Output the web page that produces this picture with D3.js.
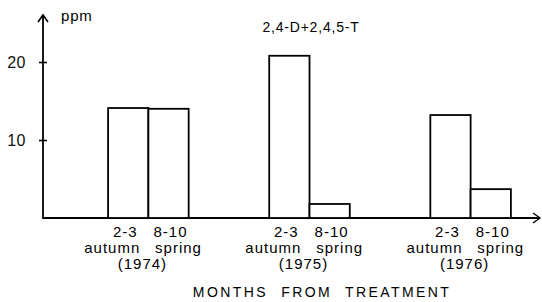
<!DOCTYPE html>
<html>
<head>
<meta charset="utf-8">
<script src="https://cdn.jsdelivr.net/npm/d3@7"></script>
<style>
  body { margin: 0; background: #fff; }
  svg { font-family: "Liberation Sans", Arial, sans-serif; }
</style>
</head>
<body>
<svg width="542" height="302"></svg>
<script>
// residue data
const years = ["1974", "1975", "1976"]
const seasons = ["autumn", "spring"]
const months = ["2-3", "8-10"]
const autumnPpm = [14.1, 20.8, 13.2]
const springPpm = [14.0, 1.8, 3.7]
const yTicks = [10, 20]

const svg = d3.select("svg")

const y = d3.scaleLinear().domain([0, 20]).range([218, 62])
const x = d3.scaleBand().domain(years).range([63, 556])
  .paddingInner(0.5).paddingOuter(0.28)
const xs = d3.scaleBand().domain(seasons).range([0, x.bandwidth()])

const x0 = 43, base = y(0)

// axes with open arrowheads
svg.append("line").attr("x1", x0).attr("x2", x0).attr("y1", base + 1).attr("y2", 15)
  .attr("stroke", "#000").attr("stroke-width", 1.8)
svg.append("path").attr("d", `M${x0 - 5},22 L${x0},15 L${x0 + 5},22`)
  .attr("fill", "none").attr("stroke", "#000").attr("stroke-width", 1.6)
svg.append("line").attr("x1", x0).attr("x2", 539).attr("y1", base).attr("y2", base)
  .attr("stroke", "#000").attr("stroke-width", 1.8)
svg.append("path").attr("d", `M533,${base - 5} L540,${base} L533,${base + 5}`)
  .attr("fill", "none").attr("stroke", "#000").attr("stroke-width", 1.4)

const yAxis = svg.append("g").attr("transform", `translate(${x0},0)`)
  .call(d3.axisLeft(y).tickValues(yTicks).tickSizeInner(4).tickSizeOuter(0).tickPadding(13))
yAxis.select(".domain").remove()
yAxis.selectAll(".tick line").attr("x2", 4).attr("x1", -4).attr("stroke-width", 1.6)
yAxis.selectAll(".tick text").attr("font-size", 16).attr("font-family", "Liberation Sans, Arial, sans-serif")
  .attr("letter-spacing", 0.5).attr("fill", "#111")

svg.append("text").attr("x", 61).attr("y", 21).attr("font-size", 15)
  .attr("letter-spacing", 0.8).text("ppm")
svg.append("text").attr("x", 311).attr("y", 32).attr("text-anchor", "middle")
  .attr("font-size", 14).attr("letter-spacing", 0.8).text("2,4-D+2,4,5-T")

// bars
const rows = years.map((yr, i) => ({ year: yr, values: [autumnPpm[i], springPpm[i]] }))
const g = svg.selectAll("g.grp").data(rows).enter().append("g")
  .attr("class", "grp").attr("transform", d => `translate(${x(d.year)},0)`)

g.selectAll("rect").data(d => d.values.map((v, j) => ({ season: seasons[j], v })))
  .enter().append("rect")
  .attr("x", d => xs(d.season))
  .attr("y", d => y(d.v))
  .attr("width", xs.bandwidth())
  .attr("height", d => base - y(d.v))
  .attr("fill", "#fff").attr("stroke", "#000").attr("stroke-width", 1.8)

// category labels
g.selectAll("text.mo").data(months).enter().append("text")
  .attr("x", (d, j) => xs(seasons[j]) + xs.bandwidth() / 2 + (j ? 2 : -3))
  .attr("y", 237).attr("text-anchor", "middle").attr("font-size", 15)
  .attr("letter-spacing", 1).text(d => d)
g.selectAll("text.se").data(seasons).enter().append("text")
  .attr("x", (d, j) => xs(d) + xs.bandwidth() / 2 + (j ? 10 : -16))
  .attr("y", 253).attr("text-anchor", "middle").attr("font-size", 15)
  .attr("letter-spacing", 1).text(d => d)
g.append("text").attr("x", x.bandwidth() / 2 - 6).attr("y", 269)
  .attr("text-anchor", "middle").attr("font-size", 15).attr("letter-spacing", 1)
  .text(d => `(${d.year})`)

svg.append("text").attr("x", 322).attr("y", 297).attr("text-anchor", "middle")
  .attr("font-size", 14).attr("letter-spacing", 2.4).attr("word-spacing", 7)
  .text("MONTHS FROM TREATMENT")
</script>
</body>
</html>
